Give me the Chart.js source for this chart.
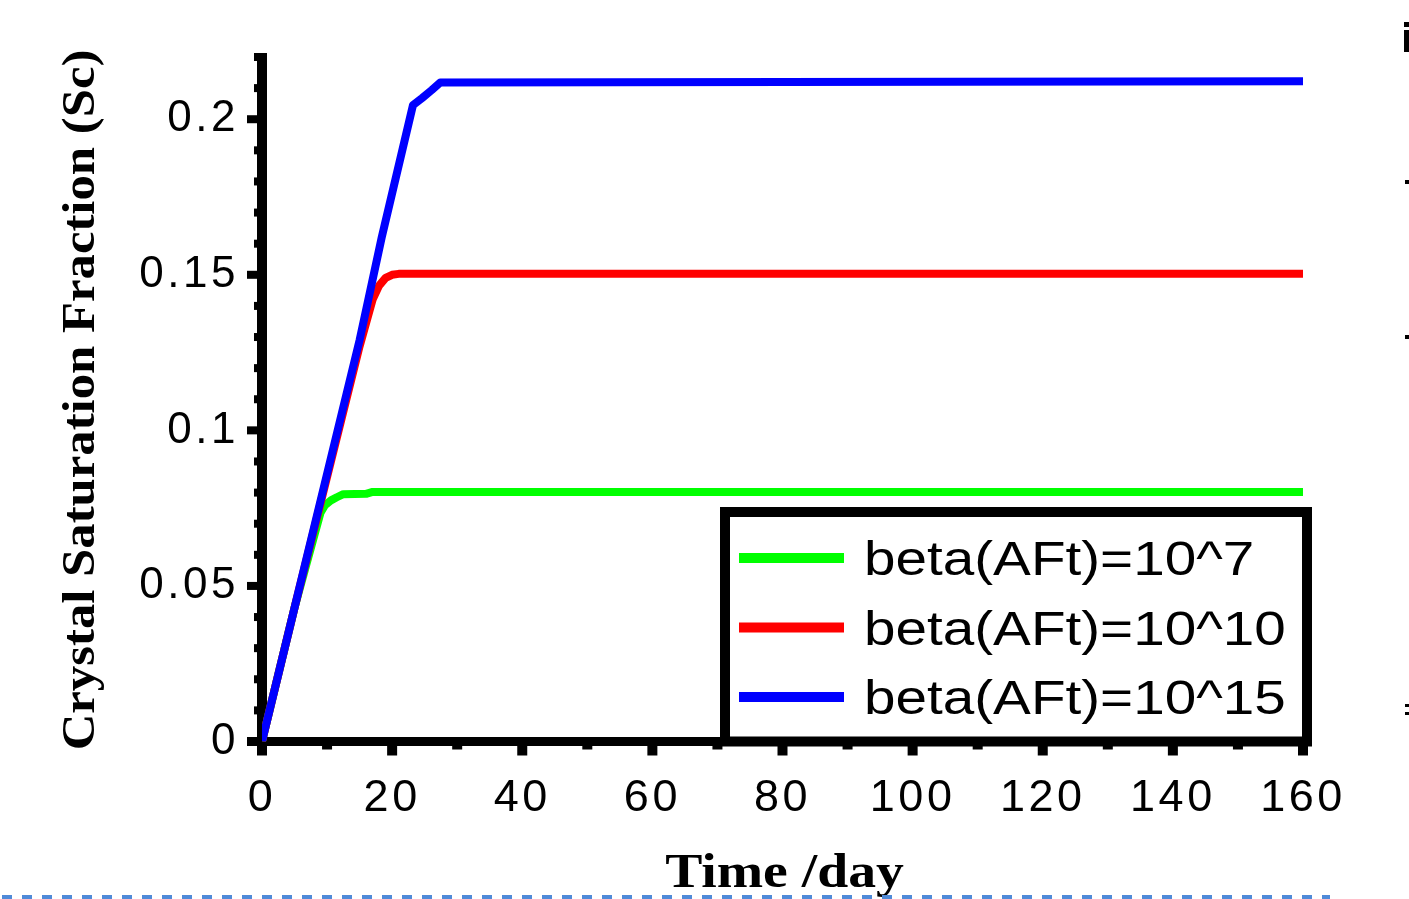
<!DOCTYPE html>
<html>
<head>
<meta charset="utf-8">
<title>Crystal Saturation Fraction</title>
<script src="https://cdn.jsdelivr.net/npm/chart.js@4.4.1/dist/chart.umd.min.js"></script>
<style>
    body { margin: 0; background: #fff; }
    #wrap { position: relative; width: 1409px; height: 899px; }
</style>
</head>
<body>
<div id="wrap"><canvas id="scChart"></canvas></div>
<script>
// series (time in days, Sc as fraction)
const seriesLabels = ['beta(AFt)=10^7', 'beta(AFt)=10^10', 'beta(AFt)=10^15'];
const seriesColors = ['#00ff00', '#ff0000', '#0000ff'];

const daysGreen = [0, 5, 9, 9.7, 10.6, 11.5, 12.5, 16, 17, 160];
const scGreen = [0, 0.043, 0.0735, 0.076, 0.0775, 0.0785, 0.0795, 0.0796, 0.0802, 0.0802];

const daysRed = [0, 5, 10, 15, 17, 18, 19, 20, 21, 160];
const scRed = [0, 0.043, 0.085, 0.127, 0.142, 0.1465, 0.149, 0.150, 0.1503, 0.1503];

const daysBlue = [0, 5, 10, 15, 18.4, 23.2, 24.6, 26.1, 27.4, 160];
const scBlue = [0, 0.043, 0.086, 0.129, 0.162, 0.2045, 0.2068, 0.2094, 0.2118, 0.2122];

const xMin = 0, xMax = 160, xStep = 20, xMinorStep = 10;
const yMin = 0, yMax = 0.22, yStep = 0.05, yMinorStep = 0.01;

const xTitle = 'Time /day';
const yTitle = 'Crystal Saturation Fraction (Sc)';

function toPoints(xs, ys) {
    return xs.map((x, i) => ({ x: x, y: ys[i] }));
}

// text that looks horizontally stretched, like the source image
function wideText(ctx, text, x, y, stretch) {
    ctx.save();
    ctx.translate(x, y);
    ctx.scale(stretch, 1);
    ctx.fillText(text, 0, 0);
    ctx.restore();
}

// thick axes with outward ticks, drawn under the lines
const axesPlugin = {
    id: 'axesPlugin',
    beforeDraw(chart) {
        chart.ctx.letterSpacing = '3.5px';
    },
    beforeDatasetsDraw(chart) {
        const ctx = chart.ctx;
        const xs = chart.scales.x;
        const ys = chart.scales.y;
        const x0 = xs.getPixelForValue(xMin);
        const y0 = ys.getPixelForValue(yMin);
        ctx.save();
        ctx.fillStyle = '#000';
        // left axis
        ctx.fillRect(x0 - 5, ys.getPixelForValue(yMax) - 4, 10, y0 - ys.getPixelForValue(yMax) + 9);
        const nY = Math.round((yMax - yMin) / yMinorStep);
        for (let i = 0; i <= nY; i++) {
            const v = yMin + i * yMinorStep;
            const py = ys.getPixelForValue(v);
            const major = i % Math.round(yStep / yMinorStep) === 0;
            const len = major ? 15 : 8;
            ctx.fillRect(x0 - len, py - 4, len, 8);
        }
        // bottom axis
        ctx.fillRect(x0 - 15, y0 - 4.5, xs.getPixelForValue(xMax) - x0 + 24, 9);
        const nX = Math.round((xMax - xMin) / xMinorStep);
        for (let i = 0; i <= nX; i++) {
            const v = xMin + i * xMinorStep;
            const px = xs.getPixelForValue(v);
            const major = i % Math.round(xStep / xMinorStep) === 0;
            const len = major ? 14 : 8;
            ctx.fillRect(px - 5, y0, 10, len);
        }
        ctx.restore();
    },
    afterDraw(chart) {
        const ctx = chart.ctx;
        const area = chart.chartArea;
        ctx.save();
        ctx.letterSpacing = '0px';

        // legend box
        const bx = 725, by = 512, bw = 582, bh = area.bottom - 512;
        ctx.fillStyle = '#fff';
        ctx.fillRect(bx, by, bw, bh);
        ctx.lineWidth = 10;
        ctx.strokeStyle = '#000';
        ctx.strokeRect(bx, by, bw, bh);
        ctx.font = '48px "Liberation Sans", Arial, sans-serif';
        ctx.textAlign = 'left';
        ctx.textBaseline = 'alphabetic';
        chart.data.datasets.forEach((ds, i) => {
            const ly = 558 + i * 69.5;
            ctx.fillStyle = ds.borderColor;
            ctx.fillRect(739, ly - 5, 105, 10);
            ctx.fillStyle = '#000';
            wideText(ctx, ds.label, 864, ly + 17, 1.18);
        });

        // axis titles
        ctx.fillStyle = '#000';
        ctx.font = 'bold 48px "Liberation Serif", "Times New Roman", serif';
        ctx.textAlign = 'center';
        wideText(ctx, xTitle, (area.left + area.right) / 2 + 2, 887, 1.16);

        ctx.save();
        ctx.translate(94, 400);
        ctx.rotate(-Math.PI / 2);
        ctx.font = 'bold 47px "Liberation Serif", "Times New Roman", serif';
        wideText(ctx, yTitle, 0, 0, 1.08);
        ctx.restore();

        // dashed frame edge at the bottom
        ctx.strokeStyle = '#4f8ad8';
        ctx.lineWidth = 4;
        ctx.setLineDash([10, 10]);
        ctx.beginPath();
        ctx.moveTo(2, 897);
        ctx.lineTo(1330, 897);
        ctx.stroke();
        ctx.setLineDash([]);

        // cropped bits of neighbouring text at the right edge
        ctx.fillStyle = '#000';
        ctx.fillRect(1404, 30, 5, 22);
        ctx.fillRect(1404, 22, 5, 5);
        ctx.fillRect(1405, 180, 4, 4);
        ctx.fillRect(1405, 335, 4, 4);
        ctx.fillRect(1405, 704, 4, 3);
        ctx.fillRect(1405, 712, 4, 3);
        ctx.restore();
    }
};

const ctx = document.getElementById('scChart').getContext('2d');
const scChart = new Chart(ctx, {
    type: 'line',
    data: {
        datasets: [
            { label: seriesLabels[0], data: toPoints(daysGreen, scGreen), borderColor: seriesColors[0], order: 3 },
            { label: seriesLabels[1], data: toPoints(daysRed, scRed), borderColor: seriesColors[1], order: 2 },
            { label: seriesLabels[2], data: toPoints(daysBlue, scBlue), borderColor: seriesColors[2], order: 1 }
        ]
    },
    options: {
        responsive: true,
        maintainAspectRatio: false,
        animation: false,
        layout: { padding: { top: 57, right: 106, left: 0, bottom: 0 } },
        elements: {
            line: { borderWidth: 8, tension: 0, fill: false, borderCapStyle: 'butt', borderJoinStyle: 'round' },
            point: { radius: 0, hoverRadius: 0 }
        },
        plugins: {
            legend: { display: false },
            tooltip: { enabled: false }
        },
        scales: {
            x: {
                type: 'linear',
                min: xMin,
                max: xMax,
                grid: { display: false, drawTicks: false },
                border: { display: false },
                ticks: {
                    stepSize: xStep,
                    padding: 30,
                    color: '#000',
                    maxRotation: 0,
                    font: { family: '"Liberation Sans", Arial, sans-serif', size: 45 },
                    callback: v => String(v)
                },
                afterFit: s => { s.height = 157.5; }
            },
            y: {
                min: yMin,
                max: yMax,
                grid: { display: false, drawTicks: false },
                border: { display: false },
                ticks: {
                    stepSize: yStep,
                    padding: 23,
                    color: '#000',
                    font: { family: '"Liberation Sans", Arial, sans-serif', size: 44 },
                    callback: v => {
                        const r = Math.round(v / yStep);
                        if (Math.abs(r * yStep - v) > 1e-9) return '';
                        return String(+(r * yStep).toFixed(2));
                    }
                },
                afterFit: s => { s.width = 262; }
            }
        }
    },
    plugins: [axesPlugin]
});
</script>
</body>
</html>
